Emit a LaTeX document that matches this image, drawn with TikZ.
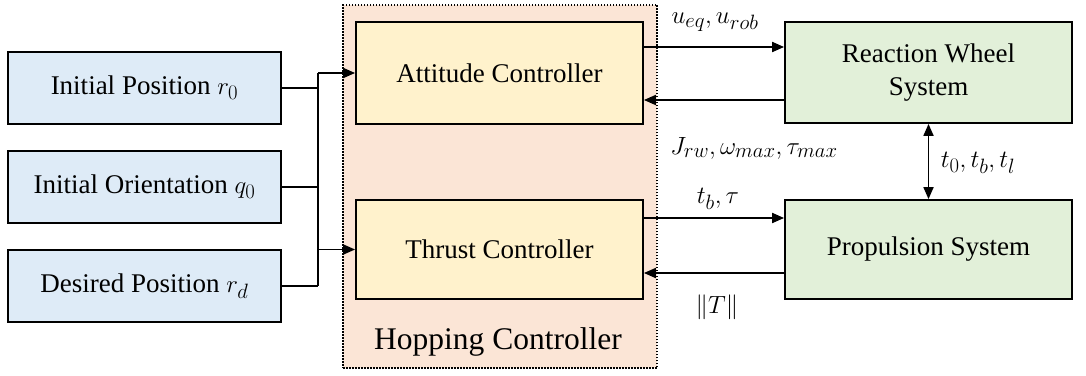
\documentclass[tikz,border=0pt]{standalone}
\usepackage{fontspec}
\setmainfont{Liberation Serif}
\usetikzlibrary{arrows.meta,calc}
\definecolor{blueF}{HTML}{DEEBF7}
\definecolor{orangeF}{HTML}{FFF2CC}
\definecolor{peachF}{HTML}{FBE5D6}
\definecolor{greenF}{HTML}{E2F0D9}
\tikzset{
  boxbase/.style={draw, line width=1.8pt, inner sep=2pt, align=center,
    font=\fontsize{27}{33}\selectfont},
  inbox/.style={boxbase, fill=blueF, minimum width=273pt, minimum height=72pt},
  ctrlbox/.style={boxbase, fill=orangeF, minimum width=287pt, minimum height=101pt},
  sysbox/.style={boxbase, fill=greenF, minimum width=287pt, minimum height=101pt},
  contbox/.style={draw, line width=1.5pt, dash pattern=on 1.5pt off 1.5pt, fill=peachF,
    minimum width=314pt, minimum height=363pt, inner sep=0pt},
  conn/.style={line width=1.8pt},
  arr/.style={conn, -{Triangle[length=12pt,width=10pt]}},
  arrtwo/.style={conn, {Triangle[length=12pt,width=10pt]}-{Triangle[length=12pt,width=10pt]}},
  lbl/.style={font=\fontsize{31}{36}\selectfont, inner sep=0pt},
}
\begin{document}
\begin{tikzpicture}[x=1pt,y=-1pt]
\useasboundingbox (0,0) rectangle (1086,375);
\node[contbox] (hop) at (500,186.5) {};
\node[lbl, font=\fontsize{31.5}{36}\selectfont] (hoplbl) at (498,342) {Hopping Controller};

\node[inbox] (r0) at (144.5,88) {Initial Position {\fontsize{30}{33}\selectfont$r_0$}};
\node[inbox] (q0) at (144.5,187) {Initial Orientation {\fontsize{30}{33}\selectfont$q_0$}};
\node[inbox] (rd) at (144.5,286) {Desired Position {\fontsize{30}{33}\selectfont$r_d$}};

\node[ctrlbox, minimum height=102pt] (att) at (499.5,73) {Attitude Controller};
\node[ctrlbox, minimum height=99pt] (thr) at (499.5,249.5) {Thrust Controller};

\node[sysbox] (rw) at (928.5,72.5) {Reaction Wheel\\System};
\node[sysbox, minimum height=99pt] (ps) at (928.5,249.5) {Propulsion System};

\coordinate (jtop) at (318,73);
\coordinate (jbot) at (318,286);
\draw[conn] (r0.east) -- (r0.east -| jtop);
\draw[conn] (q0.east) -- (q0.east -| jtop);
\draw[conn] (rd.east) -- (jbot);
\draw[conn] (jtop) -- (jbot);
\draw[arr] (jtop) -- (att.west);
\draw[arr] (jtop |- thr.west) -- (thr.west);

\draw[arr] (att.east |- 0,47) -- (rw.west |- 0,47);
\draw[arr] (rw.west |- 0,100) -- (att.east |- 0,100);
\draw[arr] (thr.east |- 0,218) -- (ps.west |- 0,218);
\draw[arr] (ps.west |- 0,273) -- (thr.east |- 0,273);
\draw[arrtwo] (rw.south) -- (ps.north);

\node[lbl] (l1) at (715,22) {$u_{eq}, u_{rob}$};
\node[lbl] (l2) at (754,148) {$J_{rw}, \omega_{max}, \tau_{max}$};
\node[lbl] (l3) at (978,163) {$t_0, t_b, t_l$};
\node[lbl] (l4) at (718,199) {$t_b, \tau$};
\node[lbl] (l5) at (717,307) {$\|T\|$};
\end{tikzpicture}
\end{document}
